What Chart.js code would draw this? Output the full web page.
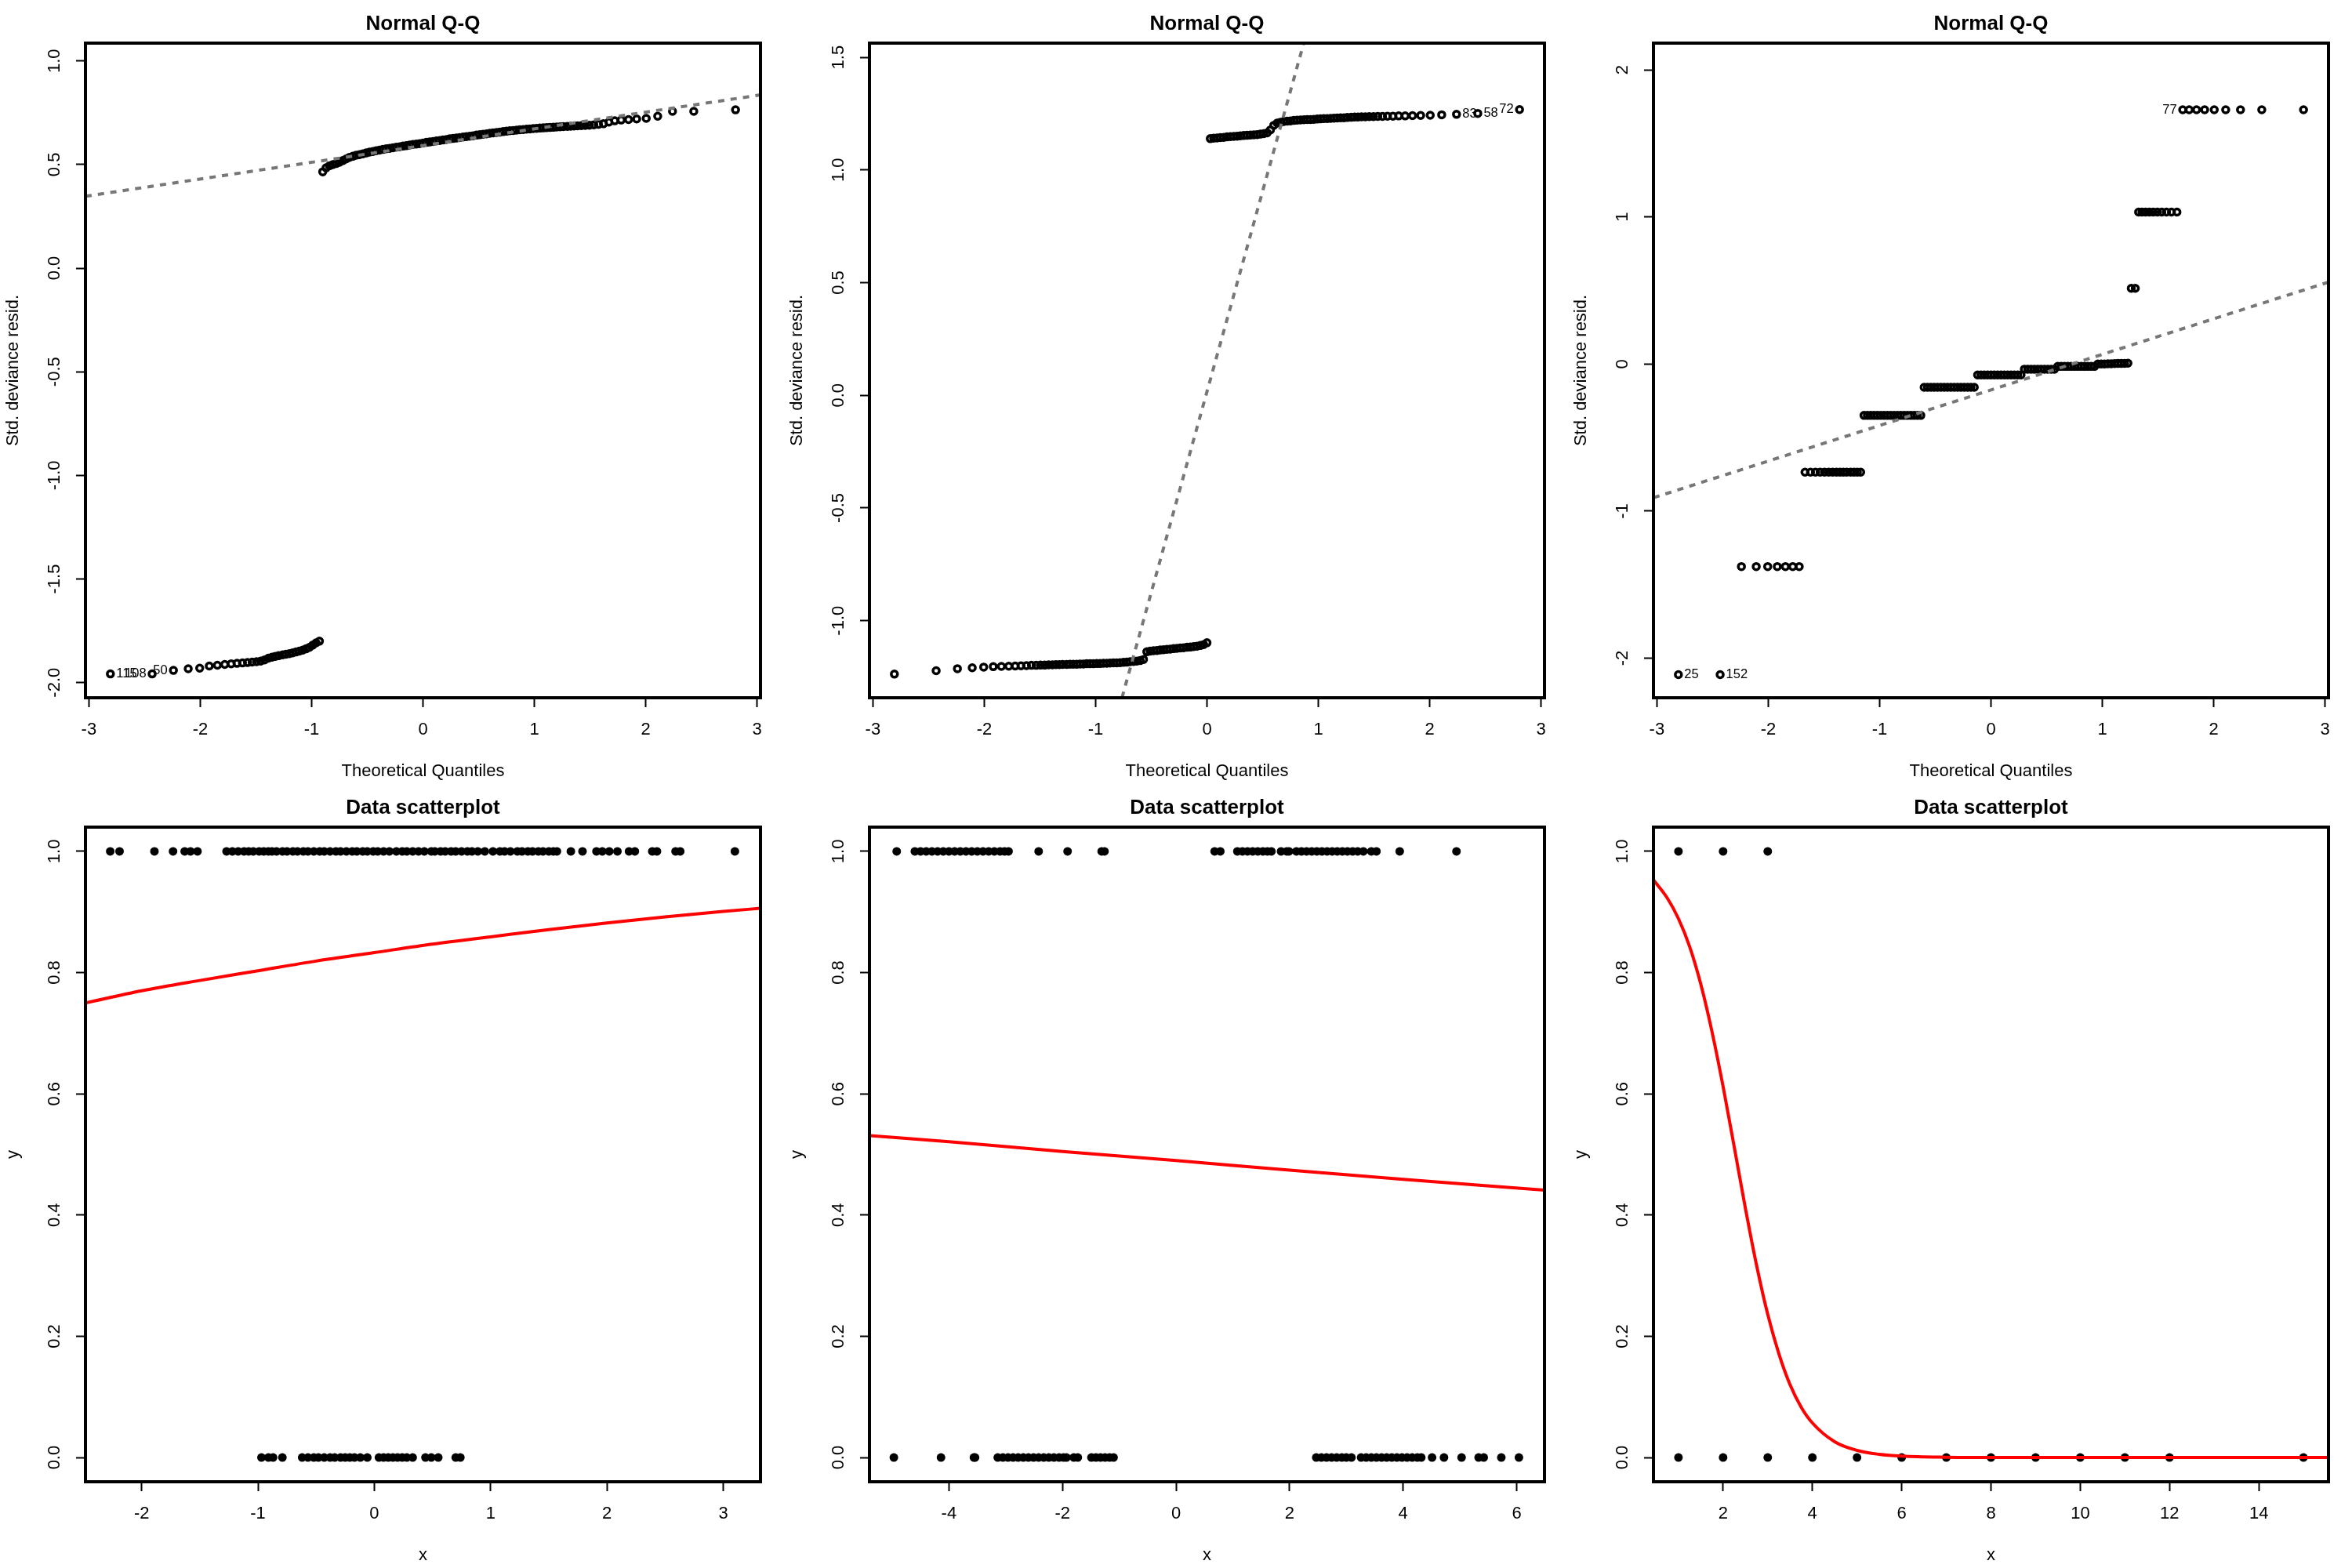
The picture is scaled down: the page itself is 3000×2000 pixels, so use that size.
<!DOCTYPE html>
<html>
<head>
<meta charset="utf-8">
<script src="https://cdn.jsdelivr.net/npm/chart.js@4/dist/chart.umd.min.js"></script>
<style>
html,body{margin:0;padding:0;background:#fff}
body{width:3000px;height:2000px;position:relative;overflow:hidden}
.p{position:absolute;width:1000px;height:1000px}
canvas{display:block}
</style>
</head>
<body>
<div class="p" style="left:0;top:0"><canvas id="c1" width="1000" height="1000"></canvas></div>
<div class="p" style="left:1000px;top:0"><canvas id="c2" width="1000" height="1000"></canvas></div>
<div class="p" style="left:2000px;top:0"><canvas id="c3" width="1000" height="1000"></canvas></div>
<div class="p" style="left:0;top:1000px"><canvas id="c4" width="1000" height="1000"></canvas></div>
<div class="p" style="left:1000px;top:1000px"><canvas id="c5" width="1000" height="1000"></canvas></div>
<div class="p" style="left:2000px;top:1000px"><canvas id="c6" width="1000" height="1000"></canvas></div>
<script>
// ---------------- DATA ----------------
// Theoretical quantiles (x of the Q-Q plots)
const qqTheoretical = [
 -2.807,-2.432,-2.241,-2.108,-2.005,-1.919,-1.846,-1.780,-1.722,-1.670,-1.621,-1.576,-1.534,-1.495,-1.457,-1.422,-1.388,-1.356,-1.326,-1.296,
 -1.26,-1.23,-1.20,-1.17,-1.14,-1.11,-1.08,-1.05,-1.02,-0.99,
 -0.96,-0.93,-0.90,-0.87,-0.84,-0.81,-0.78,-0.75,-0.72,-0.69,
 -0.66,-0.63,-0.60,-0.57,-0.54,-0.51,-0.48,-0.45,-0.42,-0.39,
 -0.36,-0.33,-0.30,-0.27,-0.24,-0.21,-0.18,-0.15,-0.12,-0.09,
 -0.06,-0.03,0.00,0.03,0.06,0.09,0.12,0.15,0.18,0.21,
 0.24,0.27,0.30,0.33,0.36,0.39,0.42,0.45,0.48,0.51,
 0.54,0.57,0.60,0.63,0.66,0.69,0.72,0.75,0.78,0.81,
 0.84,0.87,0.90,0.93,0.96,0.99,1.02,1.05,1.08,1.11,
 1.14,1.17,1.20,1.23,1.26,
 1.296,1.326,1.356,1.388,1.422,1.457,1.495,1.534,1.576,1.621,1.670,1.722,1.780,1.846,1.919,2.005,2.108,2.241,2.432,2.807
];
// Std. deviance residuals, panel 1
const qqResid1 = [
 -1.958,-1.958,-1.941,-1.933,-1.930,-1.920,-1.916,-1.912,-1.909,-1.907,-1.905,-1.903,-1.901,-1.899,-1.896,-1.890,-1.882,-1.877,-1.873,-1.870,
 -1.866,-1.863,-1.860,-1.856,-1.852,-1.848,-1.843,-1.837,-1.830,-1.819,
 -1.808,-1.800,0.465,0.484,0.494,0.500,0.505,0.511,0.519,0.527,
 0.535,0.540,0.545,0.548,0.552,0.556,0.560,0.563,0.567,0.570,
 0.573,0.576,0.578,0.581,0.584,0.586,0.589,0.591,0.594,0.597,
 0.599,0.601,0.604,0.607,0.609,0.611,0.614,0.616,0.619,0.621,
 0.624,0.626,0.628,0.630,0.633,0.635,0.637,0.639,0.642,0.644,
 0.646,0.648,0.651,0.653,0.655,0.657,0.659,0.661,0.663,0.664,
 0.666,0.668,0.669,0.671,0.672,0.674,0.675,0.676,0.677,0.678,
 0.679,0.680,0.681,0.682,0.683,
 0.684,0.685,0.686,0.687,0.688,0.689,0.690,0.692,0.694,0.697,0.705,0.711,0.715,0.717,0.720,0.723,0.733,0.757,0.757,0.764
];
// panel 2
const qqResid2 = [
 -1.237,-1.222,-1.213,-1.209,-1.206,-1.204,-1.203,-1.202,-1.201,-1.200,-1.199,-1.198,-1.198,-1.197,-1.197,-1.196,-1.196,-1.195,-1.195,-1.194,
 -1.194,-1.193,-1.193,-1.193,-1.192,-1.192,-1.191,-1.191,-1.191,-1.190,
 -1.190,-1.189,-1.189,-1.188,-1.187,-1.187,-1.186,-1.185,-1.184,-1.182,
 -1.181,-1.179,-1.177,-1.172,-1.138,-1.135,-1.133,-1.132,-1.130,-1.129,
 -1.127,-1.126,-1.124,-1.123,-1.121,-1.120,-1.118,-1.117,-1.115,-1.113,
 -1.110,-1.106,-1.098,1.139,1.141,1.142,1.144,1.145,1.147,1.148,
 1.149,1.150,1.152,1.153,1.154,1.155,1.156,1.157,1.159,1.161,
 1.165,1.178,1.198,1.208,1.212,1.215,1.217,1.218,1.220,1.221,
 1.222,1.223,1.224,1.224,1.225,1.226,1.227,1.228,1.228,1.229,
 1.230,1.231,1.232,1.232,1.233,
 1.234,1.235,1.235,1.236,1.236,1.237,1.237,1.238,1.238,1.239,1.239,1.240,1.240,1.241,1.242,1.243,1.245,1.247,1.251,1.268
];
// panel 3
const qqResid3 = [
 -2.112,-2.112,-1.377,-1.377,-1.377,-1.377,-1.377,-1.377,-1.377,
 -0.735,-0.735,-0.735,-0.735,-0.735,-0.735,-0.735,-0.735,-0.735,-0.735,-0.735,
 -0.735,-0.735,-0.735,-0.735,-0.349,-0.349,-0.349,-0.349,-0.349,-0.349,
 -0.349,-0.349,-0.349,-0.349,-0.349,-0.349,-0.349,-0.349,-0.349,-0.349,
 -0.349,-0.349,-0.158,-0.158,-0.158,-0.158,-0.158,-0.158,-0.158,-0.158,
 -0.158,-0.158,-0.158,-0.158,-0.158,-0.158,-0.158,-0.158,-0.074,-0.074,
 -0.074,-0.074,-0.074,-0.074,-0.074,-0.074,-0.074,-0.074,-0.074,-0.074,
 -0.074,-0.074,-0.035,-0.035,-0.035,-0.035,-0.035,-0.035,-0.035,-0.035,
 -0.035,-0.035,-0.016,-0.016,-0.016,-0.016,-0.016,-0.016,-0.016,-0.016,
 -0.016,-0.016,-0.016,-0.016,0.000,0.001,0.001,0.002,0.002,0.003,
 0.004,0.004,0.005,0.006,0.515,
 0.515,1.033,1.033,1.033,1.033,1.033,1.033,1.033,1.033,1.033,1.033,
 1.729,1.729,1.729,1.729,1.729,1.729,1.729,1.729,1.729
];
// Q-Q reference lines (two points each)
const qqLine1X = [-3.031, 3.031], qqLine1Y = [0.347, 0.836];
const qqLine2X = [-0.763, 0.869], qqLine2Y = [-1.342, 1.563];
const qqLine3X = [-3.031, 3.031], qqLine3Y = [-0.909, 0.557];
// Labelled observations
const qqIds1 = [{t:'115', x:-2.807, y:-1.958, side:'right'}, {t:'108', x:-2.432, y:-1.958, side:'left'}, {t:'50', x:-2.241, y:-1.941, side:'left'}];
const qqIds2 = [{t:'83', x:2.241, y:1.247, side:'right'}, {t:'58', x:2.432, y:1.251, side:'right'}, {t:'72', x:2.807, y:1.268, side:'left'}];
const qqIds3 = [{t:'25', x:-2.807, y:-2.112, side:'right'}, {t:'152', x:-2.432, y:-2.112, side:'right'}, {t:'77', x:1.722, y:1.729, side:'left'}];

// Scatter data: x values of observations with y = 1 and y = 0
const scatA_y1 = [-2.27,-2.19,-1.89,-1.73,-1.63,-1.58,-1.52,
 -1.27,-1.22,-1.17,-1.12,-1.08,-1.04,-0.99,-0.95,-0.91,-0.88,
 -0.84,-0.79,-0.75,-0.70,-0.66,-0.61,-0.57,-0.52,-0.47,-0.43,-0.38,-0.33,-0.29,-0.24,-0.19,-0.15,-0.10,-0.06,-0.01,0.03,0.08,0.13,
 0.19,0.24,0.28,0.33,0.38,0.43,0.49,
 0.52,0.57,0.61,0.66,0.70,0.75,0.80,0.84,
 0.89,0.95,1.02,1.08,1.12,1.17,1.23,1.27,1.32,1.36,1.41,1.45,1.50,1.54,1.57,
 1.69,1.79,1.91,1.96,2.02,2.09,2.19,2.24,2.39,2.43,2.59,2.63,3.10];
const scatA_y0 = [-0.97,-0.91,-0.87,-0.79,-0.62,-0.57,-0.52,-0.48,-0.43,-0.38,-0.34,-0.29,-0.25,-0.21,-0.17,-0.12,-0.06,
 0.04,0.08,0.12,0.16,0.20,0.24,0.28,0.33,0.44,0.49,0.55,0.70,0.74];
const scatB_y1 = [-4.92,-4.60,-4.50,-4.40,-4.30,-4.20,-4.10,-4.00,-3.90,-3.80,-3.70,-3.60,-3.50,-3.40,-3.30,-3.20,-3.10,-3.02,-2.95,
 -2.42,-1.91,-1.31,-1.26,0.68,0.78,1.08,1.17,1.26,1.35,1.44,1.53,1.61,1.68,1.85,1.95,1.99,
 2.12,2.21,2.30,2.39,2.48,2.57,2.66,2.75,2.84,2.93,3.02,3.11,3.20,3.30,3.44,3.53,3.94,4.94];
const scatB_y0 = [-4.97,-4.14,-3.56,-3.54,-3.14,-3.05,-2.96,-2.87,-2.78,-2.69,-2.60,-2.51,-2.42,-2.33,-2.24,-2.15,-2.06,-1.98,-1.93,
 -1.80,-1.73,-1.49,-1.41,-1.33,-1.25,-1.17,-1.10,
 2.47,2.56,2.65,2.74,2.83,2.92,3.00,3.09,3.26,3.35,3.44,3.53,3.62,3.71,3.80,3.89,3.98,4.07,4.16,4.25,4.32,
 4.51,4.72,5.03,5.33,5.42,5.73,6.04];
const scatC_y1 = [1,2,3];
const scatC_y0 = [1,2,3,4,5,6,7,8,9,10,11,12,15];

// Fitted probability curves
const curveA_X = [-2.483,-2,-1.5,-1,-0.5,0,0.5,1,1.5,2,2.5,3,3.32];
const curveA_Y = [0.750,0.770,0.787,0.803,0.819,0.833,0.847,0.859,0.871,0.882,0.892,0.901,0.906];
const curveB_X = [-5.40,-4,-2,0,2,4,6.49];
const curveB_Y = [0.531,0.521,0.505,0.490,0.474,0.459,0.441];
const curveC_X = [0.44,0.75,1.0,1.25,1.5,1.75,2.0,2.25,2.5,2.75,3.0,3.25,3.5,3.75,4.0,4.5,5.0,5.5,6.0,7.0,8.0,10.0,12.0,15.56];
const curveC_Y = [0.953,0.923,0.889,0.843,0.781,0.703,0.612,0.512,0.411,0.317,0.236,0.171,0.120,0.083,0.057,0.026,0.0117,0.0052,0.0023,0.0005,0.0001,0,0,0];

// Ticks
const qqTicksX = [-3,-2,-1,0,1,2,3];
const qqTickLabelsX = ['-3','-2','-1','0','1','2','3'];
const qq1TicksY = [-2,-1.5,-1,-0.5,0,0.5,1];
const qq1TickLabelsY = ['-2.0','-1.5','-1.0','-0.5','0.0','0.5','1.0'];
const qq2TicksY = [-1,-0.5,0,0.5,1,1.5];
const qq2TickLabelsY = ['-1.0','-0.5','0.0','0.5','1.0','1.5'];
const qq3TicksY = [-2,-1,0,1,2];
const qq3TickLabelsY = ['-2','-1','0','1','2'];
const scTicksY = [0,0.2,0.4,0.6,0.8,1];
const scTickLabelsY = ['0.0','0.2','0.4','0.6','0.8','1.0'];
const scATicksX = [-2,-1,0,1,2,3];
const scATickLabelsX = ['-2','-1','0','1','2','3'];
const scBTicksX = [-4,-2,0,2,4,6];
const scBTickLabelsX = ['-4','-2','0','2','4','6'];
const scCTicksX = [2,4,6,8,10,12,14];
const scCTickLabelsX = ['2','4','6','8','10','12','14'];

// ---------------- RENDERING ----------------
const FONT = "'Liberation Sans', Arial, Helvetica, sans-serif";
const pts = (xs, ys) => xs.map((x, i) => ({x: x, y: ys[i]}));
const ptsConst = (xs, yv) => xs.map(x => ({x: x, y: yv}));

function widest(labels) {
  const c = document.createElement('canvas').getContext('2d');
  c.font = '22px ' + FONT;
  return Math.max.apply(null, labels.map(l => c.measureText(l).width));
}

const boxPlugin = {
  id: 'rbox',
  afterDraw(chart) {
    const {ctx, chartArea: a} = chart;
    ctx.save();
    ctx.strokeStyle = '#000';
    ctx.lineWidth = 4;
    ctx.strokeRect(a.left, a.top, a.right - a.left, a.bottom - a.top);
    ctx.restore();
  }
};
function idPlugin(items) {
  return {
    id: 'idlabels',
    afterDatasetsDraw(chart) {
      const {ctx, scales} = chart;
      ctx.save();
      ctx.font = '16.5px ' + FONT;
      ctx.fillStyle = '#000';
      ctx.textBaseline = 'middle';
      for (const it of items) {
        const px = scales.x.getPixelForValue(it.x);
        const py = scales.y.getPixelForValue(it.y);
        if (it.side === 'right') { ctx.textAlign = 'left'; ctx.fillText(it.t, px + 7.5, py); }
        else { ctx.textAlign = 'right'; ctx.fillText(it.t, px - 7.5, py); }
      }
      ctx.restore();
    }
  };
}

function makeChart(id, cfg) {
  const w = widest(cfg.yLabels);
  return new Chart(document.getElementById(id), {
    type: 'scatter',
    data: {datasets: cfg.datasets},
    options: {
      responsive: false,
      animation: false,
      devicePixelRatio: 1,
      events: [],
      layout: {padding: {left: 0, right: 30, top: 0, bottom: 0}},
      plugins: {
        legend: {display: false},
        tooltip: {enabled: false},
        title: {
          display: true, text: cfg.title, color: '#000', fullSize: false,
          font: {family: FONT, size: 26, weight: 'bold', lineHeight: 1.2},
          padding: {top: 15.2, bottom: 8.6}
        }
      },
      scales: {
        x: {
          type: 'linear', position: 'bottom', min: cfg.xMin, max: cfg.xMax,
          afterFit: s => { s.height = 110; },
          afterBuildTicks: s => { s.ticks = cfg.xTicks.map(v => ({value: v})); },
          ticks: {
            autoSkip: false, maxRotation: 0, minRotation: 0, padding: 15.8, color: '#000',
            font: {family: FONT, size: 22, lineHeight: 1.2},
            callback: (v, i) => cfg.xLabels[i]
          },
          grid: {display: true, drawOnChartArea: false, drawTicks: true, tickLength: 12, tickWidth: 2, tickColor: '#000'},
          border: {display: false},
          title: {display: true, text: cfg.xTitle, color: '#000', font: {family: FONT, size: 22, lineHeight: 1.2}, padding: {top: 0, bottom: 2.8}}
        },
        y: {
          type: 'linear', position: 'left', min: cfg.yMin, max: cfg.yMax,
          afterFit: s => { s.width = 109; },
          afterBuildTicks: s => { s.ticks = cfg.yTicks.map(v => ({value: v})); },
          ticks: {
            autoSkip: false, minRotation: 90, maxRotation: 90, crossAlign: 'center',
            padding: 27.5 - w / 2, color: '#000',
            font: {family: FONT, size: 22, lineHeight: 1.2},
            callback: (v, i) => cfg.yLabels[i]
          },
          grid: {display: true, drawOnChartArea: false, drawTicks: true, tickLength: 12, tickWidth: 2, tickColor: '#000'},
          border: {display: false},
          title: {display: true, text: cfg.yTitle, color: '#000', font: {family: FONT, size: 22, lineHeight: 1.2}, padding: {top: 3.3, bottom: 0}}
        }
      }
    },
    plugins: [boxPlugin, idPlugin(cfg.ids || [])]
  });
}

function qqDatasets(resid, lx, ly) {
  return [
    {data: pts(lx, ly), showLine: true, borderColor: '#777777', borderWidth: 4, borderDash: [8, 8],
     pointRadius: 0, fill: false, order: 0},
    {data: pts(qqTheoretical, resid), showLine: false, pointRadius: 4, pointBorderWidth: 3.5,
     pointBorderColor: '#000', pointBackgroundColor: 'rgba(0,0,0,0)', order: 1}
  ];
}
function scDatasets(y1, y0, cx, cy, mode) {
  return [
    {data: pts(cx, cy), showLine: true, borderColor: '#ff0000', borderWidth: 4, pointRadius: 0,
     fill: false, cubicInterpolationMode: mode, tension: 0.4, order: 0},
    {data: ptsConst(y1, 1).concat(ptsConst(y0, 0)), showLine: false, pointRadius: 5.5, pointBorderWidth: 0,
     pointBackgroundColor: '#000', pointBorderColor: '#000', order: 1}
  ];
}

const qqCommon = {title: 'Normal Q-Q', xTitle: 'Theoretical Quantiles', yTitle: 'Std. deviance resid.',
  xMin: -3.031, xMax: 3.031, xTicks: qqTicksX, xLabels: qqTickLabelsX};
const scCommon = {title: 'Data scatterplot', xTitle: 'x', yTitle: 'y', yMin: -0.04, yMax: 1.04,
  yTicks: scTicksY, yLabels: scTickLabelsY};

makeChart('c1', Object.assign({}, qqCommon, {yMin: -2.073, yMax: 1.086, yTicks: qq1TicksY, yLabels: qq1TickLabelsY,
  datasets: qqDatasets(qqResid1, qqLine1X, qqLine1Y), ids: qqIds1}));
makeChart('c2', Object.assign({}, qqCommon, {yMin: -1.342, yMax: 1.563, yTicks: qq2TicksY, yLabels: qq2TickLabelsY,
  datasets: qqDatasets(qqResid2, qqLine2X, qqLine2Y), ids: qqIds2}));
makeChart('c3', Object.assign({}, qqCommon, {yMin: -2.269, yMax: 2.182, yTicks: qq3TicksY, yLabels: qq3TickLabelsY,
  datasets: qqDatasets(qqResid3, qqLine3X, qqLine3Y), ids: qqIds3}));
makeChart('c4', Object.assign({}, scCommon, {xMin: -2.483, xMax: 3.32, xTicks: scATicksX, xLabels: scATickLabelsX,
  datasets: scDatasets(scatA_y1, scatA_y0, curveA_X, curveA_Y, 'monotone')}));
makeChart('c5', Object.assign({}, scCommon, {xMin: -5.40, xMax: 6.49, xTicks: scBTicksX, xLabels: scBTickLabelsX,
  datasets: scDatasets(scatB_y1, scatB_y0, curveB_X, curveB_Y, 'monotone')}));
makeChart('c6', Object.assign({}, scCommon, {xMin: 0.44, xMax: 15.56, xTicks: scCTicksX, xLabels: scCTickLabelsX,
  datasets: scDatasets(scatC_y1, scatC_y0, curveC_X, curveC_Y, 'monotone')}));
</script>
</body>
</html>
